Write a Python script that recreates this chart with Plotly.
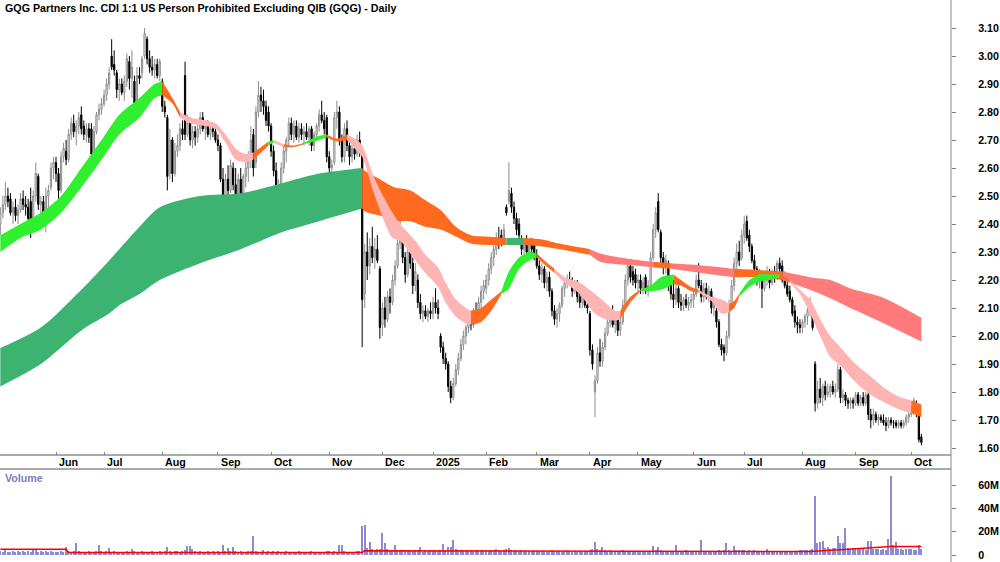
import plotly.graph_objects as go
import pandas as pd

# ---------------- data ----------------
title_text = "GQG Partners Inc. CDI 1:1 US Person Prohibited Excluding QIB (GQG) - Daily"

asx_holidays = ["2024-06-10", "2024-12-25", "2024-12-26", "2025-01-01", "2025-01-27",
                "2025-04-18", "2025-04-21", "2025-04-25", "2025-06-09"]
trade_dates = [d for d in pd.bdate_range("2024-05-02", "2025-10-07")
               if d.strftime("%Y-%m-%d") not in asx_holidays]

opens = [
    2.40,2.44,2.47,2.50,2.49,2.44,2.46,2.43,2.45,2.49,2.47,2.46,2.48,2.38,2.50,2.57,2.47,2.48,2.44,2.50,2.53,2.60,
    2.62,2.58,2.52,2.64,2.66,2.63,2.72,2.76,2.73,2.75,2.79,2.75,2.72,2.74,2.74,2.66,2.73,2.79,2.81,
    2.83,2.86,2.90,3.00,2.97,2.94,2.88,2.90,2.87,2.91,2.98,2.92,2.91,2.84,2.93,2.94,3.00,3.06,2.99,2.96,2.95,2.97,2.93,
    2.91,2.82,2.78,2.58,2.70,2.58,2.66,2.68,2.74,2.93,2.72,2.76,2.70,2.73,2.71,2.74,2.78,2.74,2.75,2.72,2.74,2.73,
    2.70,2.68,2.56,2.50,2.56,2.52,2.60,2.54,2.50,2.56,2.47,2.57,2.60,2.64,2.72,2.62,2.80,2.86,2.84,2.82,2.80,
    2.75,2.66,2.59,2.51,2.53,2.60,2.66,2.70,2.76,2.72,2.75,2.71,2.74,2.72,2.73,2.71,2.74,2.68,2.72,2.75,2.79,2.77,2.78,
    2.64,2.60,2.62,2.78,2.80,2.70,2.64,2.74,2.68,2.64,2.67,2.65,2.70,2.65,2.15,2.30,2.25,2.32,2.28,2.31,2.24,
    2.04,2.10,2.06,2.14,2.12,2.20,2.25,2.33,2.36,2.28,2.22,2.30,2.26,2.18,2.20,2.12,2.08,2.09,2.07,2.09,
    2.08,2.12,2.10,2.00,1.96,1.92,1.90,1.82,1.78,1.83,1.88,1.92,1.97,2.00,2.03,2.06,2.04,2.08,2.07,2.12,2.16,
    2.17,2.20,2.24,2.28,2.31,2.35,2.36,2.34,2.46,2.48,2.51,2.46,2.42,2.40,2.34,2.31,2.33,2.30,2.33,2.33,
    2.29,2.25,2.22,2.24,2.19,2.21,2.16,2.09,2.06,2.08,2.11,2.17,2.19,2.20,2.19,2.16,2.18,2.14,2.12,2.15,2.11,
    2.08,1.95,1.80,1.84,1.94,1.91,1.96,2.01,2.05,2.09,2.04,2.06,2.02,2.05,2.11,2.20,2.25,2.23,2.22,
    2.19,2.20,2.17,2.21,2.16,2.18,2.28,2.38,2.48,2.37,2.28,2.25,2.26,2.18,2.15,2.13,2.17,2.12,2.11,2.13,2.11,2.12,
    2.13,2.15,2.20,2.18,2.14,2.17,2.14,2.16,2.10,2.09,2.05,1.97,1.96,1.94,2.00,2.11,2.18,2.26,2.30,2.28,
    2.36,2.41,2.36,2.32,2.27,2.24,2.20,2.22,2.17,2.20,2.23,2.19,2.23,2.21,2.26,2.25,2.21,2.18,2.16,2.13,2.09,2.05,2.04,
    2.03,2.05,2.07,2.09,2.10,1.90,1.76,1.81,1.78,1.82,1.79,1.80,1.82,1.80,1.81,1.88,1.78,1.79,1.77,1.76,1.77,
    1.76,1.79,1.76,1.78,1.76,1.79,1.72,1.70,1.72,1.70,1.71,1.70,1.69,1.68,1.70,1.69,1.69,1.68,1.69,1.68,1.69,1.71,
    1.72,1.74,1.76,1.73,1.64,
]
highs = [
    2.46,2.50,2.55,2.53,2.51,2.48,2.49,2.47,2.51,2.52,2.50,2.49,2.53,2.52,2.62,2.58,2.50,2.50,2.53,2.54,2.62,2.64,
    2.64,2.60,2.66,2.69,2.70,2.74,2.78,2.79,2.77,2.80,2.82,2.77,2.76,2.76,2.76,2.75,2.80,2.83,2.85,
    2.88,2.92,2.96,3.06,3.02,2.95,2.92,2.92,2.93,3.01,3.00,3.02,2.93,2.96,2.96,3.00,3.10,3.07,3.02,3.00,2.99,2.99,2.99,
    2.92,2.84,2.79,2.74,2.71,2.69,2.72,2.76,2.77,2.98,2.79,2.78,2.75,2.75,2.76,2.80,2.80,2.77,2.77,2.75,2.76,2.75,
    2.72,2.69,2.60,2.58,2.61,2.63,2.62,2.60,2.58,2.60,2.58,2.63,2.66,2.75,2.74,2.82,2.91,2.89,2.88,2.84,2.82,
    2.76,2.68,2.62,2.56,2.62,2.68,2.71,2.78,2.78,2.77,2.77,2.76,2.76,2.75,2.76,2.75,2.75,2.73,2.76,2.81,2.84,2.80,2.79,
    2.66,2.63,2.80,2.84,2.82,2.72,2.76,2.77,2.71,2.69,2.70,2.72,2.73,2.66,2.33,2.37,2.35,2.39,2.35,2.36,2.25,
    2.12,2.14,2.16,2.17,2.22,2.27,2.36,2.43,2.38,2.30,2.33,2.34,2.28,2.26,2.22,2.15,2.11,2.11,2.10,2.12,
    2.14,2.17,2.13,2.01,1.98,1.94,1.91,1.84,1.85,1.90,1.94,1.99,2.02,2.04,2.08,2.09,2.10,2.12,2.14,2.18,2.20,
    2.22,2.26,2.30,2.33,2.37,2.39,2.38,2.40,2.47,2.62,2.53,2.48,2.44,2.42,2.36,2.35,2.36,2.34,2.35,2.34,
    2.31,2.27,2.26,2.25,2.23,2.23,2.17,2.11,2.10,2.12,2.18,2.20,2.22,2.23,2.21,2.20,2.20,2.17,2.16,2.17,2.14,
    2.09,1.97,1.86,1.96,1.99,1.98,2.03,2.07,2.10,2.11,2.08,2.08,2.07,2.13,2.22,2.27,2.27,2.25,2.24,
    2.22,2.22,2.21,2.22,2.20,2.30,2.40,2.46,2.51,2.38,2.30,2.29,2.27,2.20,2.20,2.19,2.18,2.15,2.14,2.15,2.14,2.15,
    2.16,2.22,2.26,2.20,2.19,2.19,2.18,2.17,2.14,2.10,2.06,1.99,1.97,2.02,2.13,2.20,2.28,2.33,2.34,2.38,
    2.43,2.43,2.38,2.33,2.29,2.25,2.24,2.23,2.22,2.25,2.24,2.24,2.25,2.27,2.28,2.27,2.23,2.20,2.18,2.14,2.11,2.07,2.06,
    2.06,2.08,2.10,2.14,2.11,1.91,1.84,1.85,1.83,1.84,1.83,1.83,1.84,1.83,1.90,1.89,1.81,1.80,1.78,1.78,1.78,
    1.80,1.80,1.79,1.80,1.80,1.80,1.74,1.74,1.73,1.72,1.72,1.72,1.71,1.71,1.71,1.70,1.70,1.70,1.70,1.70,1.72,1.73,
    1.75,1.78,1.77,1.74,1.65,
]
lows = [
    2.36,2.42,2.45,2.46,2.43,2.40,2.41,2.40,2.44,2.45,2.43,2.40,2.35,2.37,2.48,2.45,2.42,2.41,2.37,2.45,2.52,2.56,
    2.55,2.49,2.51,2.62,2.61,2.62,2.70,2.71,2.68,2.72,2.72,2.70,2.69,2.69,2.64,2.65,2.72,2.77,2.79,
    2.82,2.84,2.88,2.95,2.93,2.85,2.84,2.86,2.84,2.89,2.88,2.85,2.81,2.83,2.90,2.92,2.99,2.97,2.94,2.93,2.92,2.92,2.91,
    2.80,2.78,2.52,2.56,2.55,2.57,2.64,2.66,2.70,2.70,2.71,2.68,2.67,2.68,2.69,2.72,2.73,2.70,2.71,2.70,2.71,2.69,
    2.66,2.55,2.48,2.46,2.49,2.51,2.52,2.46,2.45,2.43,2.44,2.53,2.55,2.60,2.57,2.60,2.78,2.80,2.79,2.75,2.73,
    2.64,2.57,2.48,2.47,2.52,2.58,2.62,2.68,2.70,2.69,2.70,2.69,2.70,2.68,2.70,2.68,2.66,2.66,2.70,2.73,2.76,2.72,2.62,
    2.58,2.57,2.61,2.74,2.68,2.62,2.62,2.66,2.61,2.62,2.63,2.64,2.64,1.96,2.10,2.20,2.22,2.26,2.24,2.26,1.99,
    2.00,2.03,2.05,2.08,2.11,2.18,2.24,2.31,2.26,2.19,2.21,2.24,2.15,2.16,2.10,2.06,2.05,2.06,2.05,2.06,
    2.06,2.08,2.06,1.94,1.90,1.88,1.80,1.76,1.77,1.82,1.86,1.91,1.95,1.97,2.01,2.02,2.03,2.05,2.06,2.10,2.13,
    2.15,2.18,2.22,2.25,2.29,2.31,2.32,2.33,2.43,2.47,2.44,2.40,2.36,2.34,2.29,2.29,2.29,2.28,2.29,2.27,
    2.24,2.20,2.19,2.17,2.16,2.14,2.07,2.04,2.03,2.05,2.10,2.14,2.17,2.18,2.14,2.15,2.12,2.10,2.10,2.10,2.08,
    1.93,1.88,1.71,1.83,1.89,1.89,1.95,2.00,2.03,2.03,2.01,2.00,2.00,2.04,2.10,2.18,2.19,2.18,2.17,
    2.16,2.15,2.15,2.15,2.14,2.17,2.27,2.35,2.37,2.26,2.22,2.22,2.16,2.13,2.10,2.11,2.10,2.09,2.09,2.10,2.09,2.10,
    2.10,2.14,2.17,2.12,2.12,2.13,2.12,2.08,2.07,2.03,1.96,1.93,1.91,1.93,1.99,2.10,2.16,2.24,2.25,2.27,
    2.33,2.34,2.30,2.26,2.22,2.18,2.17,2.10,2.16,2.18,2.17,2.18,2.19,2.20,2.22,2.19,2.17,2.14,2.12,2.07,2.03,2.01,2.01,
    2.01,2.03,2.04,2.07,2.02,1.73,1.74,1.76,1.75,1.77,1.78,1.78,1.79,1.78,1.80,1.76,1.76,1.75,1.74,1.74,1.74,
    1.75,1.75,1.75,1.75,1.75,1.70,1.67,1.68,1.69,1.68,1.69,1.68,1.66,1.67,1.68,1.67,1.67,1.67,1.67,1.67,1.68,1.69,
    1.71,1.72,1.71,1.62,1.61,
]
closes = [
    2.44,2.47,2.50,2.48,2.44,2.46,2.43,2.45,2.49,2.47,2.46,2.42,2.37,2.50,2.58,2.47,2.48,2.44,2.50,2.52,2.60,2.62,
    2.58,2.52,2.64,2.67,2.63,2.72,2.76,2.73,2.75,2.78,2.74,2.72,2.74,2.71,2.65,2.73,2.79,2.81,2.83,
    2.86,2.90,2.94,2.96,2.95,2.88,2.90,2.87,2.91,2.99,2.92,2.96,2.83,2.93,2.92,2.99,3.08,2.99,2.96,2.95,2.97,2.93,2.98,
    2.82,2.80,2.57,2.70,2.58,2.66,2.68,2.74,2.72,2.72,2.76,2.70,2.73,2.71,2.74,2.78,2.74,2.75,2.72,2.74,2.73,2.70,
    2.68,2.56,2.50,2.56,2.52,2.61,2.54,2.50,2.56,2.47,2.57,2.60,2.64,2.70,2.60,2.80,2.86,2.84,2.82,2.77,2.75,
    2.66,2.59,2.51,2.53,2.60,2.66,2.70,2.76,2.72,2.75,2.71,2.74,2.72,2.73,2.71,2.74,2.68,2.72,2.75,2.79,2.77,2.74,2.64,
    2.60,2.61,2.78,2.80,2.70,2.64,2.74,2.68,2.64,2.67,2.65,2.70,2.66,2.13,2.30,2.25,2.32,2.28,2.31,2.27,2.03,
    2.10,2.06,2.14,2.12,2.20,2.25,2.33,2.38,2.28,2.22,2.30,2.26,2.18,2.23,2.12,2.08,2.09,2.07,2.09,2.08,
    2.12,2.10,2.08,1.96,1.92,1.90,1.82,1.78,1.83,1.88,1.92,1.97,2.00,2.03,2.06,2.04,2.08,2.07,2.12,2.16,2.18,
    2.20,2.24,2.28,2.31,2.35,2.33,2.34,2.38,2.44,2.52,2.46,2.42,2.38,2.36,2.31,2.33,2.30,2.33,2.31,2.28,
    2.25,2.22,2.24,2.19,2.21,2.16,2.09,2.06,2.08,2.11,2.17,2.19,2.20,2.19,2.16,2.18,2.14,2.12,2.15,2.11,2.10,
    1.95,1.90,1.84,1.94,1.91,1.96,2.01,2.05,2.08,2.04,2.06,2.02,2.05,2.11,2.20,2.25,2.21,2.20,2.19,
    2.20,2.17,2.19,2.16,2.18,2.28,2.38,2.44,2.38,2.28,2.25,2.27,2.18,2.15,2.13,2.17,2.12,2.11,2.13,2.11,2.12,2.13,
    2.15,2.20,2.18,2.14,2.17,2.14,2.16,2.10,2.12,2.05,1.97,1.95,1.94,2.00,2.11,2.18,2.26,2.30,2.27,2.36,
    2.40,2.35,2.32,2.27,2.24,2.20,2.22,2.17,2.20,2.23,2.19,2.23,2.21,2.26,2.24,2.20,2.18,2.15,2.13,2.08,2.05,2.04,2.03,
    2.05,2.07,2.09,2.12,2.03,1.76,1.81,1.78,1.82,1.79,1.80,1.82,1.80,1.81,1.88,1.78,1.79,1.77,1.76,1.77,1.76,
    1.79,1.76,1.78,1.76,1.79,1.72,1.70,1.72,1.70,1.71,1.70,1.69,1.68,1.70,1.69,1.69,1.68,1.69,1.68,1.69,1.71,1.72,
    1.74,1.77,1.73,1.63,1.62,
]
# volume in millions of shares
volume_m = [
    3.5,2.8,4.2,3.0,2.5,3.3,2.9,3.8,2.6,3.1,2.7,3.4,3.0,4.5,4.2,2.9,3.2,2.6,3.6,2.8,3.3,2.7,
    3.0,2.6,3.4,2.9,6.5,3.2,2.8,3.5,10.0,3.1,2.7,3.0,2.5,3.3,2.9,2.6,3.8,9.0,3.2,
    2.8,3.1,6.0,2.7,3.3,2.9,2.5,3.0,2.6,3.4,2.8,5.0,3.1,2.7,2.9,3.2,2.6,3.0,2.8,3.5,2.7,2.9,3.1,
    3.0,3.4,7.0,3.2,2.9,3.6,3.1,2.8,3.3,4.0,8.0,8.0,5.5,3.2,2.9,3.5,3.0,2.7,3.3,2.8,3.1,2.9,
    3.2,2.8,9.0,3.5,6.0,3.1,6.5,3.3,2.9,3.6,3.0,2.7,3.4,3.1,16.0,3.2,2.8,3.0,4.0,2.9,3.3,
    3.0,3.4,2.8,3.1,2.6,2.9,3.3,2.7,3.0,2.5,2.8,3.2,2.6,2.9,2.4,2.7,3.1,2.5,2.8,3.0,2.6,2.9,3.3,
    3.1,2.8,3.4,2.9,9.0,9.0,3.2,2.7,3.0,2.6,2.9,3.3,3.5,25.0,26.0,6.0,11.5,5.0,4.5,5.5,4.8,
    19.0,10.0,5.0,4.2,3.8,8.5,4.5,4.0,3.6,4.1,3.5,3.9,3.2,3.7,3.4,6.5,3.0,3.3,2.8,3.1,
    3.4,3.9,3.2,4.0,9.5,3.8,7.0,7.0,13.0,5.0,4.2,4.6,3.9,4.4,3.6,4.1,3.8,4.3,3.5,4.0,3.7,
    4.2,3.6,4.5,3.9,4.8,4.1,3.7,4.4,4.9,6.0,4.3,3.8,4.0,3.5,3.9,3.4,3.7,3.2,3.6,3.3,
    3.5,3.1,3.8,3.3,3.0,3.6,3.9,3.4,3.2,3.7,3.0,3.5,3.1,3.3,2.9,3.4,3.0,3.2,2.8,3.1,3.6,
    4.5,5.0,11.0,4.8,4.2,6.5,3.9,3.6,4.0,3.4,3.7,3.2,3.5,3.9,3.3,3.6,3.0,3.4,3.1,
    3.2,2.9,3.4,3.0,3.3,3.8,8.0,4.5,7.0,4.0,3.5,3.2,3.6,3.0,3.4,8.5,3.1,2.9,3.3,4.0,2.8,3.2,
    3.0,3.4,3.1,12.5,3.6,3.2,3.5,2.9,3.3,3.8,4.2,3.6,3.9,10.0,4.1,3.7,7.5,4.4,3.9,4.2,
    4.5,3.8,4.2,3.6,4.0,3.4,3.7,3.2,3.5,5.5,3.3,3.1,3.0,3.4,3.1,3.6,3.2,3.5,3.0,3.8,3.3,3.6,4.0,
    4.2,3.9,4.5,4.1,5.0,51.0,10.0,11.0,12.0,6.0,7.0,5.5,6.2,5.8,16.5,10.5,10.5,23.5,6.0,5.2,5.6,
    6.0,6.2,5.8,5.0,4.6,12.0,12.3,5.5,4.8,5.2,4.5,5.0,4.7,13.4,68.0,9.0,11.5,5.4,5.0,4.6,5.2,4.8,
    5.0,4.2,4.0,9.0,5.5,
]
# volume average line (millions) at bar indices
vol_ma_idx = [0, 26, 27, 143, 144, 205, 206, 320, 335, 350, 352, 364]
vol_ma_val = [4.9, 4.9, 2.2, 2.2, 3.6, 3.6, 3.0, 3.0, 5.0, 6.5, 7.2, 7.2]

# short-term moving-average ribbon (bar index, upper, lower)
short_idx = [0,8,16,24,32,40,47,55,61,64,68,71,75,81,85,89,93,97,100,106,108,112,116,120,126,129,133,137,
             141,143,148,155,158,164,168,173,176,180,184,186,190,194,198,201,205,209,212,215,219,223,229,235,
             239,243,245,249,253,257,261,266,269,273,276,281,285,288,290,292,296,300,304,308,312,316,320,324,
             328,332,338,344,350,356,360,364]
short_top = [2.36,2.40,2.44,2.50,2.60,2.70,2.79,2.85,2.90,2.91,2.85,2.80,2.78,2.77,2.76,2.72,2.67,2.65,2.655,
             2.695,2.70,2.685,2.68,2.69,2.715,2.72,2.705,2.72,2.70,2.68,2.56,2.44,2.40,2.34,2.29,2.245,2.19,2.13,
             2.10,2.09,2.10,2.13,2.16,2.23,2.28,2.30,2.295,2.27,2.24,2.21,2.19,2.15,2.12,2.09,2.09,2.14,2.165,
             2.18,2.21,2.22,2.20,2.175,2.165,2.14,2.13,2.115,2.125,2.15,2.20,2.22,2.22,2.22,2.20,2.165,2.13,
             2.06,2.00,1.96,1.90,1.855,1.81,1.78,1.77,1.755]
short_bot = [2.30,2.35,2.38,2.44,2.53,2.63,2.72,2.78,2.85,2.86,2.83,2.78,2.76,2.75,2.74,2.69,2.63,2.62,2.63,
             2.68,2.69,2.675,2.675,2.685,2.70,2.71,2.695,2.70,2.66,2.64,2.50,2.35,2.34,2.27,2.225,2.175,2.12,
             2.07,2.045,2.04,2.05,2.09,2.15,2.17,2.24,2.27,2.28,2.255,2.225,2.19,2.15,2.08,2.06,2.055,2.06,2.12,
             2.16,2.16,2.165,2.185,2.18,2.16,2.155,2.125,2.08,2.085,2.10,2.14,2.175,2.195,2.20,2.21,2.19,2.15,
             2.08,2.00,1.925,1.895,1.835,1.79,1.76,1.735,1.725,1.71]
short_breaks = [0,64,71,100,106,108,112,120,129,137,186,198,212,219,245,253,266,276,288,292,308,312,360,364]
short_kinds = ["up","down","weak","down","up","weak","down","up","down","weak","down","up","down","weak",
               "down","up","down","weak","down","up","down","weak","down"]

# long-term moving-average ribbon
long_idx = [0,16,32,43,47,55,63,79,95,111,126,143,144,150,156,162,168,174,180,186,192,200,207,214,221,233,
            237,245,253,258,265,273,285,290,301,309,320,328,336,348,364]
long_top = [1.957,2.03,2.165,2.27,2.31,2.39,2.46,2.50,2.51,2.545,2.58,2.60,2.59,2.56,2.53,2.52,2.485,2.45,2.39,
            2.36,2.355,2.35,2.35,2.345,2.33,2.31,2.295,2.28,2.27,2.265,2.26,2.255,2.245,2.24,2.235,2.23,2.21,
            2.20,2.17,2.14,2.065]
long_bot = [1.82,1.90,2.02,2.08,2.11,2.15,2.20,2.26,2.31,2.37,2.41,2.455,2.445,2.43,2.41,2.41,2.39,2.38,2.355,
            2.33,2.325,2.325,2.325,2.32,2.31,2.29,2.265,2.255,2.25,2.245,2.24,2.23,2.215,2.21,2.21,2.20,2.165,
            2.135,2.10,2.05,1.98]
long_breaks = [0,143,200,207,233,258,265,290,309,364]
long_kinds = ["up","down","up","down","weak","down","weak","down","weak"]

month_labels = ["Jun","Jul","Aug","Sep","Oct","Nov","Dec","2025","Feb","Mar","Apr","May","Jun","Jul","Aug","Sep","Oct"]
price_ticks = [1.60,1.70,1.80,1.90,2.00,2.10,2.20,2.30,2.40,2.50,2.60,2.70,2.80,2.90,3.00,3.10]
volume_ticks = [0, 20, 40, 60]
volume_tick_text = ["0", "20M", "40M", "60M"]

# ---------------- styling ----------------
short_colors = {"up": "#2ef02e", "down": "#ff6a1f", "weak": "#ffb4b4"}
long_colors = {"up": "#3cb371", "down": "#ff6a1f", "weak": "#ff7a7a"}
FONT = "Liberation Sans, Arial, sans-serif"
FS = 10.7

n = len(trade_dates)
assert len(opens) == len(highs) == len(lows) == len(closes) == len(volume_m) == n, \
    (len(opens), len(highs), len(lows), len(closes), len(volume_m), n)
bar_idx = list(range(n))
month_starts = [i for i in range(1, n) if trade_dates[i].month != trade_dates[i - 1].month]

fig = go.Figure()


def add_ribbon(idxs, tops, bots, breaks, kinds, palette):
    for k in range(len(breaks) - 1):
        a, b = breaks[k], breaks[k + 1]
        sel = [j for j, v in enumerate(idxs) if a <= v <= b]
        xs = [idxs[j] for j in sel]
        fig.add_trace(go.Scatter(x=xs, y=[bots[j] for j in sel], mode="lines",
                                 line=dict(width=0, shape="spline", smoothing=0.8, color=palette[kinds[k]]),
                                 hoverinfo="skip", showlegend=False, xaxis="x", yaxis="y"))
        fig.add_trace(go.Scatter(x=xs, y=[tops[j] for j in sel], mode="lines", fill="tonexty",
                                 fillcolor=palette[kinds[k]],
                                 line=dict(width=0, shape="spline", smoothing=0.8, color=palette[kinds[k]]),
                                 hoverinfo="skip", showlegend=False, xaxis="x", yaxis="y"))


add_ribbon(long_idx, long_top, long_bot, long_breaks, long_kinds, long_colors)
add_ribbon(short_idx, short_top, short_bot, short_breaks, short_kinds, short_colors)

fig.add_trace(go.Candlestick(
    x=bar_idx, open=opens, high=highs, low=lows, close=closes,
    increasing=dict(line=dict(color="#8c8c8c", width=1), fillcolor="#ffffff"),
    decreasing=dict(line=dict(color="#000000", width=1), fillcolor="#000000"),
    whiskerwidth=0, showlegend=False, hoverinfo="skip", xaxis="x", yaxis="y"))

fig.add_trace(go.Bar(x=bar_idx, y=volume_m, marker=dict(color="#8b8bd4", line=dict(width=0)),
                     width=0.55, showlegend=False, hoverinfo="skip", xaxis="x2", yaxis="y2"))
fig.add_trace(go.Scatter(x=vol_ma_idx, y=vol_ma_val, mode="lines", line=dict(color="#ff0000", width=1.5),
                         showlegend=False, hoverinfo="skip", xaxis="x2", yaxis="y2"))

H = 562.0
price_dom = [107 / H, 1.0]
vol_dom = [0.0, 93 / H]
xr = [-0.13, 375.7]

tickfont = dict(family=FONT, size=FS, color="#000000", weight="bold")

fig.update_layout(
    width=1000, height=562,
    margin=dict(l=0, r=49, t=0, b=0),
    paper_bgcolor="#ffffff", plot_bgcolor="#ffffff",
    showlegend=False, bargap=0,
    xaxis=dict(domain=[0, 1], range=xr, anchor="y", tickvals=month_starts, ticks="inside", ticklen=3,
               tickcolor="#808080", showticklabels=False, showgrid=False, zeroline=False, showline=False,
               rangeslider=dict(visible=False), fixedrange=True),
    xaxis2=dict(domain=[0, 1], range=xr, anchor="y2", showticklabels=False, ticks="", showgrid=False,
                zeroline=False, showline=False),
    yaxis=dict(domain=price_dom, range=[1.575, 3.20], side="right", tickvals=price_ticks,
               ticktext=["%.2f" % v for v in price_ticks], ticks="outside", ticklen=4, tickcolor="#808080",
               tickfont=tickfont, ticklabelstandoff=20, showgrid=False, zeroline=False, showline=False,
               automargin=False, ticklabeloverflow="allow"),
    yaxis2=dict(domain=vol_dom, range=[-6.0, 73.8], side="right", tickvals=volume_ticks,
                ticktext=volume_tick_text, ticks="outside", ticklen=4, tickcolor="#808080",
                tickfont=tickfont, ticklabelstandoff=20, showgrid=False, zeroline=False, showline=False,
                automargin=False, ticklabeloverflow="allow"),
)

shapes = [
    dict(type="line", xref="paper", yref="paper", x0=0, x1=1, y0=107 / H, y1=107 / H,
         line=dict(color="#8c8c8c", width=1.5)),
    dict(type="line", xref="paper", yref="paper", x0=0, x1=1, y0=93 / H, y1=93 / H,
         line=dict(color="#8c8c8c", width=1.5)),
    dict(type="line", xref="paper", yref="paper", x0=1, x1=1, y0=0, y1=1,
         line=dict(color="#8c8c8c", width=1)),
]
fig.update_layout(shapes=shapes)

annotations = [
    dict(text=title_text, xref="paper", yref="paper", x=0.003, y=1 - 8 / H, xanchor="left", yanchor="middle",
         showarrow=False, font=dict(family=FONT, size=FS, color="#000000", weight="bold")),
    dict(text="Volume", xref="paper", yref="paper", x=0.003, y=(H - 478) / H, xanchor="left", yanchor="middle",
         showarrow=False, font=dict(family=FONT, size=FS, color="#7b7bc0", weight="bold")),
]
for pos, lab in zip(month_starts, month_labels):
    annotations.append(dict(text=lab, xref="x", yref="paper", x=pos, y=(H - 462) / H, xanchor="left",
                            yanchor="middle", xshift=1, showarrow=False,
                            font=dict(family=FONT, size=FS, color="#000000", weight="bold")))
fig.update_layout(annotations=annotations)

fig.write_html("out.html")
